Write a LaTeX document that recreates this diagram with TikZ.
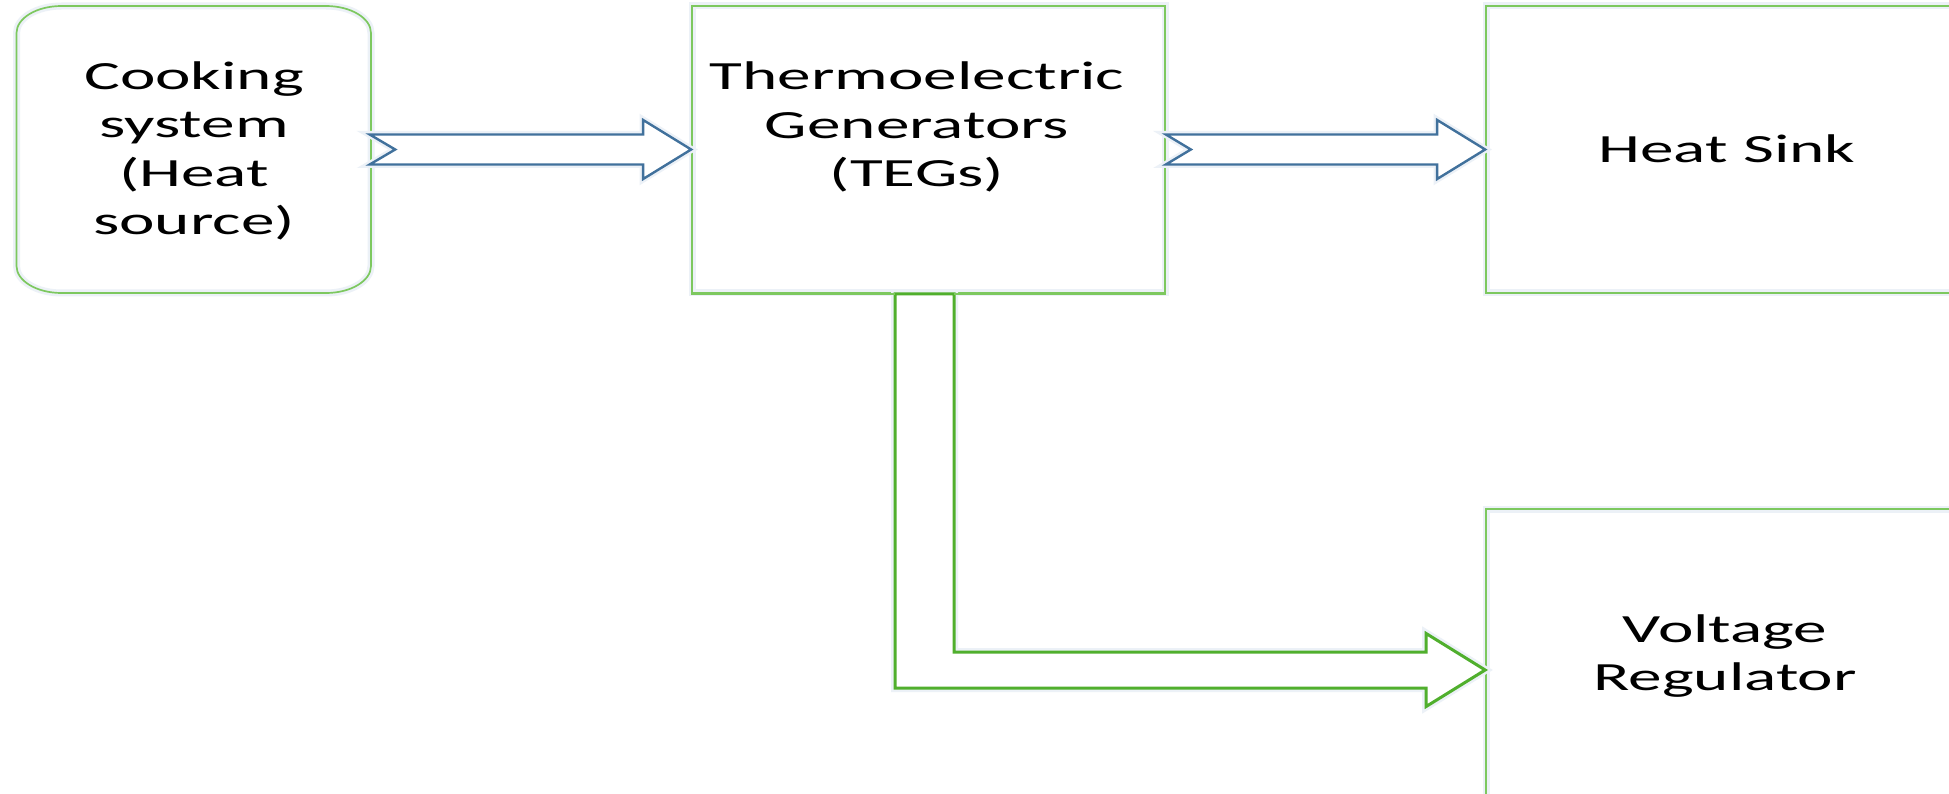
\documentclass[tikz,border=0pt]{standalone}
\usepackage{fontspec}
\setmainfont{Carlito}[FakeStretch=1.68]
\usetikzlibrary{calc}
\definecolor{boxgreen}{RGB}{125,200,95}
\definecolor{arrgreen}{RGB}{80,175,45}
\definecolor{arrblue}{RGB}{65,113,156}
\definecolor{halo}{RGB}{236,241,247}
\tikzset{
  boxline/.style={draw=boxgreen, line width=1.7pt, preaction={draw=halo, line width=7pt}},
  boxnode/.style={draw=none, inner sep=0pt},
  label/.style={font=\fontsize{40}{48.4}\selectfont, align=center, inner sep=0pt, text=black},
  bluearrow/.style={draw=arrblue, line width=2.4pt, fill=white, line join=miter, preaction={draw=halo, line width=7pt}},
  greenarrow/.style={draw=arrgreen, line width=3pt, fill=white, line join=miter, preaction={draw=halo, line width=8pt}}
}
\begin{document}
\begin{tikzpicture}[x=1pt,y=-1pt]
\useasboundingbox (0,0) rectangle (1949,794);
\clip (0,0) rectangle (1949,794);
\fill[white] (0,0) rectangle (1949,794);

% boxes
\node[boxnode, minimum width=354.5pt, minimum height=287pt] (cook) at (193.75,149.5) {};
\node[boxnode, boxline, draw=boxgreen, minimum width=473pt, minimum height=287pt] (teg) at (928.5,149.5) {};
\node[boxnode, boxline, draw=boxgreen, minimum width=482pt, minimum height=287pt] (hs) at (1727,149.5) {};
\node[boxnode, boxline, draw=boxgreen, minimum width=482pt, minimum height=322pt] (vr) at (1727,670) {};

% rounded (elliptical corners) outline of the cooking box
\draw[boxline] (61.5,6) -- (326,6) .. controls (350.8,6) and (371,18.1) .. (371,33)
  -- (371,266) .. controls (371,280.9) and (350.8,293) .. (326,293)
  -- (61.5,293) .. controls (36.7,293) and (16.5,280.9) .. (16.5,266)
  -- (16.5,33) .. controls (16.5,18.1) and (36.7,6) .. (61.5,6) -- cycle;

% labels
\node[label] (cooktext) at (194,151) {Cooking\\system\\(Heat\\source)};
\node[label] (tegtext) at (917,127) {Thermoelectric\\Generators\\(TEGs)};
\node[label] (hstext) at (1727,149) {Heat Sink};
\node[label] (vrtext) at (1725,656) {Voltage\\Regulator};

% blue arrow: cooking -> TEG
\draw[bluearrow] ($(cook.east)+(-1.5,-15)$) -- ($(teg.west)+(-48,-15)$) -- ($(teg.west)+(-48,-29.5)$)
  -- (teg.west) -- ($(teg.west)+(-48,29.5)$) -- ($(teg.west)+(-48,15)$)
  -- ($(cook.east)+(-1.5,15)$) -- ($(cook.east)+(24,0)$) -- cycle;

% blue arrow: TEG -> heat sink
\draw[bluearrow] ($(teg.east)+(0,-15)$) -- ($(hs.west)+(-48,-15)$) -- ($(hs.west)+(-48,-29.5)$)
  -- (hs.west) -- ($(hs.west)+(-48,29.5)$) -- ($(hs.west)+(-48,15)$)
  -- ($(teg.east)+(0,15)$) -- ($(teg.east)+(25,0)$) -- cycle;

% green bent arrow: TEG -> voltage regulator
\coordinate (gl) at ($(teg.south)+(-33.5,0)$);
\coordinate (gr) at ($(teg.south)+(25.5,0)$);
\coordinate (gin) at ($(vr.west)+(0,-18)$);
\coordinate (gout) at ($(vr.west)+(0,18)$);
\draw[greenarrow] (gl) -- (gr) -- (gr |- gin) -- ($(vr.west)+(-59,-18)$)
  -- ($(vr.west)+(-59,-36.5)$) -- (vr.west) -- ($(vr.west)+(-59,36.5)$)
  -- ($(vr.west)+(-59,18)$) -- (gl |- gout) -- cycle;

% redraw TEG bottom edge over the arrow's top
\draw[draw=boxgreen, line width=1.7pt] (teg.south west) -- (gl);
\draw[draw=boxgreen, line width=1.7pt] (gr) -- (teg.south east);
\end{tikzpicture}
\end{document}
